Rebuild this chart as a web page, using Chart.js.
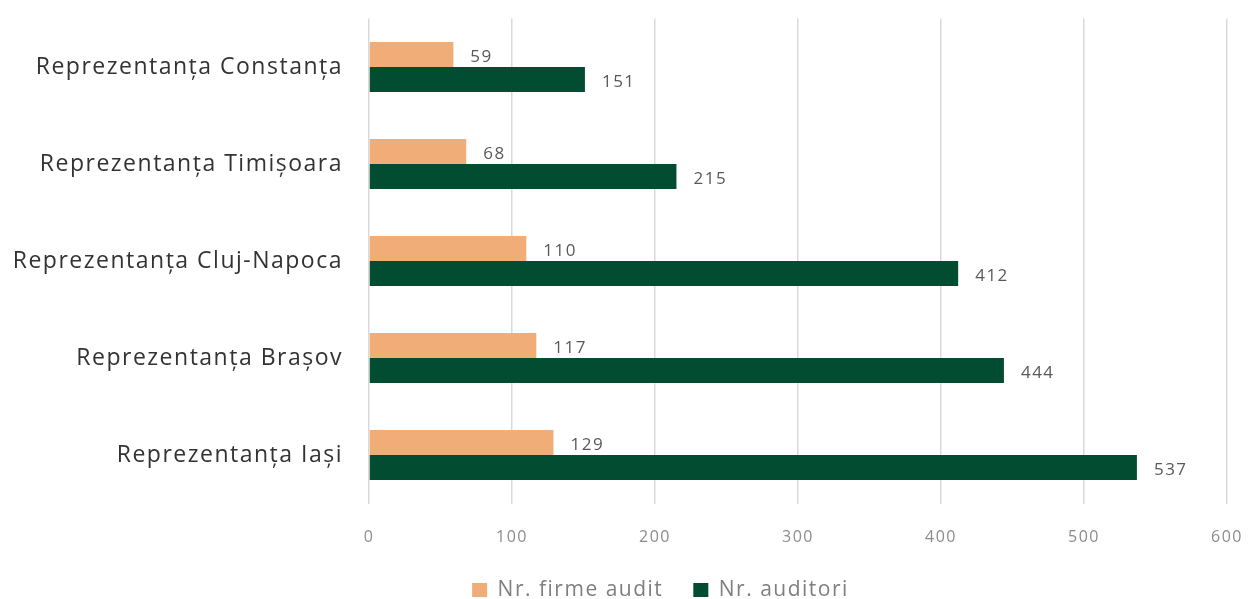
<!DOCTYPE html>
<html>
<head>
<meta charset="utf-8">
<script src="https://cdn.jsdelivr.net/npm/chart.js@4"></script>
<style>
html,body{margin:0;padding:0;background:#fff;}
#wrap{width:1248px;height:599px;position:relative;}
</style>
</head>
<body>
<div id="wrap"><canvas id="c" width="1248" height="599"></canvas></div>
<script>
const categories = ["Reprezentanța Constanța","Reprezentanța Timișoara","Reprezentanța Cluj-Napoca","Reprezentanța Brașov","Reprezentanța Iași"];
const firmeAudit = [59, 68, 110, 117, 129];
const auditori = [151, 215, 412, 444, 537];
const xTicks = [0,100,200,300,400,500,600];

const spacing = {
  id: 'spacing',
  beforeUpdate(chart) { chart.ctx.letterSpacing = '1.5px'; },
  beforeDraw(chart) { chart.ctx.letterSpacing = '1.5px'; },
  afterLayout(chart) {
    if (chart.legend) { chart.legend.left += 47; chart.legend.right += 47; }
  }
};

const valueLabels = {
  id: 'valueLabels',
  afterDatasetsDraw(chart) {
    const ctx = chart.ctx;
    ctx.save();
    ctx.font = '17px "Open Sans"';
    ctx.fillStyle = '#595959';
    ctx.textAlign = 'left';
    ctx.textBaseline = 'middle';
    chart.data.datasets.forEach((ds, di) => {
      const meta = chart.getDatasetMeta(di);
      meta.data.forEach((bar, i) => {
        ctx.fillText(String(ds.data[i]), bar.x + 17, bar.y + 3);
      });
    });
    ctx.restore();
  }
};

new Chart(document.getElementById('c'), {
  type: 'bar',
  data: {
    labels: categories,
    datasets: [
      { label: 'Nr. firme audit', data: firmeAudit, backgroundColor: '#F0AD78', barPercentage: 1, categoryPercentage: 0.515 },
      { label: 'Nr. auditori', data: auditori, backgroundColor: '#024D31', barPercentage: 1, categoryPercentage: 0.515 }
    ]
  },
  options: {
    indexAxis: 'y',
    responsive: false,
    animation: false,
    layout: { padding: { top: 18.5, right: 21, left: 0, bottom: 0 } },
    plugins: {
      legend: {
        position: 'bottom',
        maxHeight: 49.5,
        labels: {
          boxWidth: 15, boxHeight: 14, padding: 30,
          color: '#7f7f7f',
          font: { family: '"Open Sans"', size: 21 }
        }
      },
      tooltip: { enabled: false }
    },
    scales: {
      x: {
        min: 0, max: 600,
        afterBuildTicks: s => { s.ticks = xTicks.map(v => ({ value: v })); },
        afterFit: s => { s.paddingLeft = 0; s.paddingRight = 0; s.height = 46; },
        grid: { color: '#d9d9d9', lineWidth: 1.5, drawTicks: false },
        border: { display: false },
        ticks: { color: '#8c8c8c', font: { family: '"Open Sans"', size: 16 }, padding: 24 }
      },
      y: {
        afterFit: s => { s.width = 369; s.paddingTop = 0; s.paddingBottom = 0; },
        grid: { display: false, drawTicks: false },
        border: { display: false },
        ticks: { color: '#333333', font: { family: '"Open Sans"', size: 23 }, padding: 26 }
      }
    }
  },
  plugins: [spacing, valueLabels]
});
</script>
</body>
</html>
